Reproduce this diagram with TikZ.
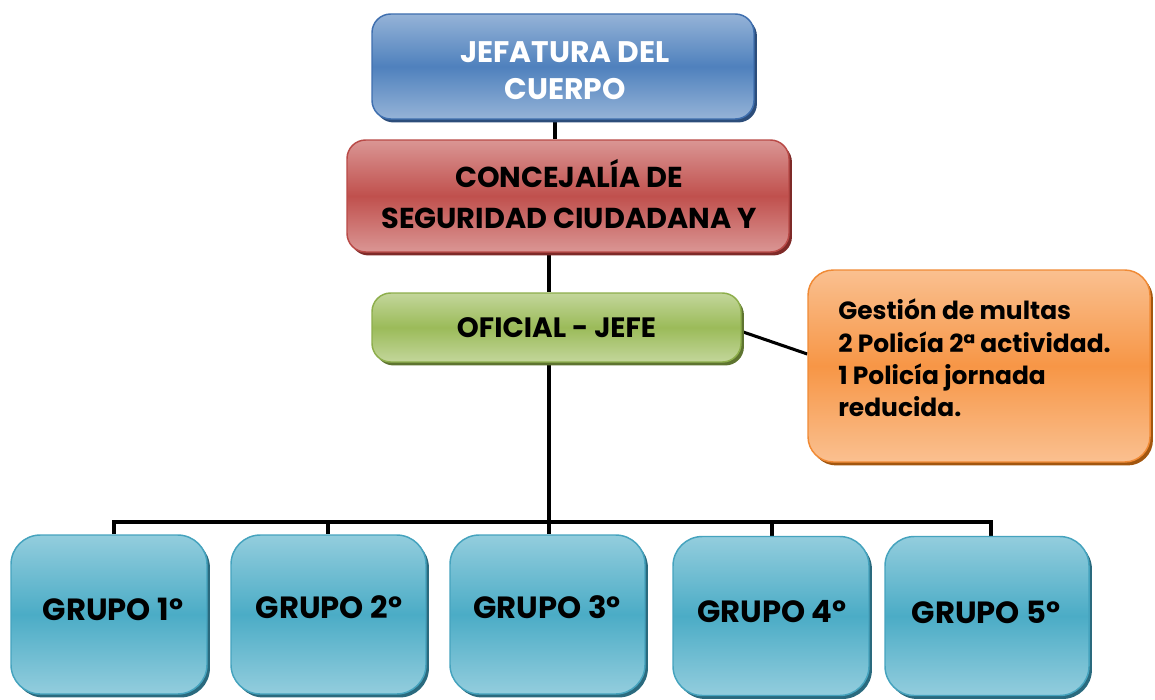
\documentclass[tikz,border=0pt]{standalone}
\usepackage{fontspec}
\setmainfont{Poppins}
\usetikzlibrary{shadows,backgrounds}
\newcommand\pxl{0.75pt}
\definecolor{bluT}{HTML}{95B3D7}\definecolor{bluM}{HTML}{4F81BD}\definecolor{bluD}{HTML}{3F6FAF}\definecolor{bluS}{HTML}{2C4D7A}
\definecolor{redT}{HTML}{DA9694}\definecolor{redM}{HTML}{C0504D}\definecolor{redD}{HTML}{B94A47}\definecolor{redS}{HTML}{7E2A28}
\definecolor{grnT}{HTML}{C3D69B}\definecolor{grnM}{HTML}{9BBB59}\definecolor{grnD}{HTML}{8DAE4B}\definecolor{grnS}{HTML}{5E7430}
\definecolor{orgT}{HTML}{FAC090}\definecolor{orgM}{HTML}{F79646}\definecolor{orgD}{HTML}{F08A35}\definecolor{orgS}{HTML}{A2560F}
\definecolor{tealT}{HTML}{93CDDD}\definecolor{tealM}{HTML}{4BACC6}\definecolor{tealD}{HTML}{45A3BE}\definecolor{tealS}{HTML}{2A6A7E}
\tikzset{
  box/.style={rounded corners=#1, draw, line width=1.1pt, align=center, inner sep=0pt,
    font=\bfseries\fontsize{21}{27}\selectfont},
  boxc/.style n args={4}{box=14pt, top color=#1, bottom color=#1, middle color=#2, draw=#3,
    drop shadow={shadow xshift=2.2pt, shadow yshift=-2.6pt, opacity=1, fill=#4}},
  conn/.style={line width=2.3pt, black},
  lbl/.style={align=center, inner sep=0pt, font=\bfseries\fontsize{22.3}{27.8}\selectfont},
}
\begin{document}
\begin{tikzpicture}[x=0.75pt,y=-0.75pt]
\useasboundingbox (0,0) rectangle (1155,699);
\node[boxc={bluT}{bluM}{bluD}{bluS}, minimum width=382*\pxl, minimum height=105*\pxl] (jef) at (563,66.5) {};
\node[lbl, text=white] (jeft) at (565,71) {JEFATURA DEL\\CUERPO};
\node[boxc={redT}{redM}{redD}{redS}, minimum width=442*\pxl, minimum height=112*\pxl] (con) at (568,196) {};
\node[lbl, font=\bfseries\fontsize{21.6}{31}\selectfont] (cont) at (569,194) {CONCEJALÍA DE\\SEGURIDAD CIUDADANA Y};
\node[boxc={grnT}{grnM}{grnD}{grnS}, minimum width=369*\pxl, minimum height=69*\pxl, font=\bfseries\fontsize{21}{27}\selectfont] (ofi) at (556.5,327.5) {OFICIAL - JEFE};
\node[boxc={orgT}{orgM}{orgD}{orgS}, rounded corners=19pt, minimum width=342*\pxl, minimum height=192*\pxl] (mul) at (979,366) {};
\node[anchor=west, align=left, inner sep=0pt, font=\bfseries\fontsize{18.7}{24.3}\selectfont] (mult) at (838,358)
  {Gestión de multas\\2 Policía 2ª actividad.\\1 Policía jornada\\reducida.};
\tikzset{grp/.style={boxc={tealT}{tealM}{tealD}{tealS}, rounded corners=22pt, minimum width=196*\pxl, minimum height=159*\pxl},
  grpt/.style={lbl, font=\bfseries\fontsize{23}{27}\selectfont}}
\node[grp] (g1) at (109,614.5) {};
\node[grp, minimum width=195*\pxl] (g2) at (328.5,614.5) {};
\node[grp, minimum width=195*\pxl] (g3) at (547.5,614.5) {};
\node[grp] (g4) at (771,616) {};
\node[grp, minimum width=204*\pxl] (g5) at (987,616) {};
\node[grpt] (g1t) at (113,609) {GRUPO 1º};
\node[grpt] (g2t) at (329,607) {GRUPO 2º};
\node[grpt] (g3t) at (547,607) {GRUPO 3º};
\node[grpt] (g4t) at (772,612) {GRUPO 4º};
\node[grpt] (g5t) at (986,612) {GRUPO 5º};
\coordinate (tA) at (555,0);
\coordinate (tB) at (549,0);
\coordinate (busL) at (114,522);
\coordinate (busR) at (991,522);
\coordinate (d2) at (328,522);
\coordinate (d4) at (772,522);
\begin{pgfonlayer}{background}
\draw[conn] (jef.south -| tA) -- (con.north -| tA);
\draw[conn] (con.south -| tB) -- (ofi.north -| tB);
\draw[conn] (ofi.south -| tB) -- (g3.north -| tB);
\draw[conn] (g1.north -| busL) -- (busL) -- (busR) -- (g5.north -| busR);
\draw[conn] (d2) -- (g2.north -| d2);
\draw[conn] (d4) -- (g4.north -| d4);
\draw[conn] ([yshift=-4*\pxl]ofi.east) -- ([yshift=12*\pxl]mul.west);
\end{pgfonlayer}
\end{tikzpicture}
\end{document}
